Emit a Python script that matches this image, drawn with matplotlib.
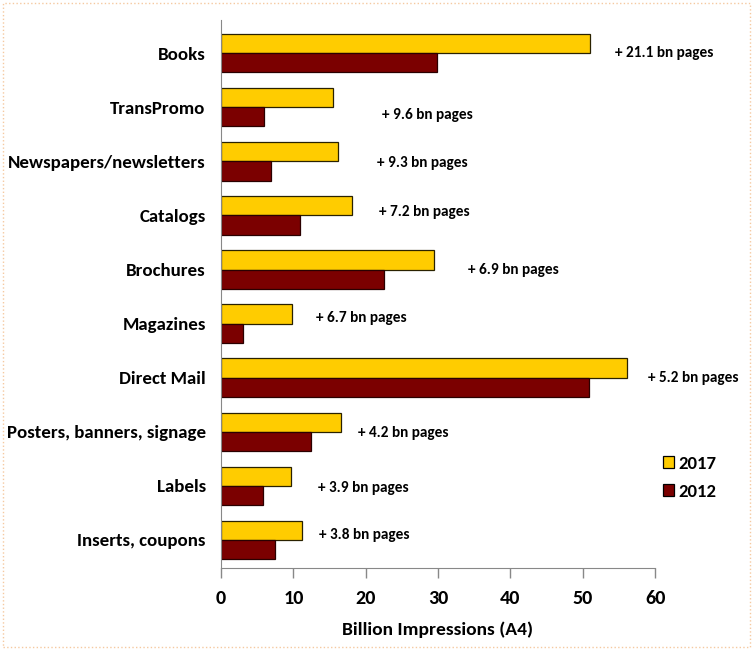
import numpy as np
import matplotlib.pyplot as plt
from matplotlib.patches import Rectangle

plt.rcParams['font.family'] = ['Carlito', 'DejaVu Sans']

categories = ['Books', 'TransPromo', 'Newspapers/newsletters', 'Catalogs', 'Brochures',
              'Magazines', 'Direct Mail', 'Posters, banners, signage', 'Labels', 'Inserts, coupons']
vals_2017 = [51.0, 15.5, 16.2, 18.1, 29.4, 9.8, 56.1, 16.6, 9.7, 11.2]
vals_2012 = [29.9, 5.9, 6.9, 10.9, 22.5, 3.1, 50.9, 12.4, 5.8, 7.4]
growth = ['+ 21.1 bn pages', '+ 9.6 bn pages', '+ 9.3 bn pages', '+ 7.2 bn pages', '+ 6.9 bn pages',
          '+ 6.7 bn pages', '+ 5.2 bn pages', '+ 4.2 bn pages', '+ 3.9 bn pages', '+ 3.8 bn pages']
# where each note sits (x in data units, y shift from the category centre)
note_x = [54.4, 22.3, 21.6, 21.8, 34.1, 13.1, 59.0, 18.9, 13.4, 13.5]
note_dy = [0, 0.15, 0.04, -0.06, 0, -0.1, 0, 0.02, 0.04, -0.09]

fig = plt.figure(figsize=(7.53, 6.5), dpi=100)
ax = fig.add_axes([0.2935, 0.126, 0.5765, 0.843])

y = np.arange(len(categories))
h = 0.355
ax.barh(y - h / 2, vals_2017, height=h, color='#FFCC00', edgecolor='#2a2200', linewidth=0.9, label='2017')
ax.barh(y + h / 2, vals_2012, height=h, color='#7B0000', edgecolor='#2a0000', linewidth=0.9, label='2012')

for i, txt in enumerate(growth):
    ax.text(note_x[i], y[i] + note_dy[i], txt, va='center', ha='left', fontsize=11,
            fontweight='bold', clip_on=False)

ax.set_yticks(y)
ax.set_yticklabels(categories, fontsize=13.6, fontweight='bold')
ax.set_ylim(9.52, -0.61)
ax.set_xlim(0, 60)
ax.set_xticks(range(0, 61, 10))
ax.tick_params(axis='x', labelsize=14.5, colors='#888888', length=7, width=1, pad=9)
for lab in ax.get_xticklabels():
    lab.set_color('black')
    lab.set_fontweight('bold')
ax.tick_params(axis='y', length=0, pad=11)
ax.set_xlabel('Billion Impressions (A4)', fontsize=14, fontweight='bold', labelpad=10)

for s in ['top', 'right']:
    ax.spines[s].set_visible(False)
for s in ['left', 'bottom']:
    ax.spines[s].set_color('#888888')

leg = ax.legend(loc='center left', bbox_to_anchor=(1.018, 0.165), frameon=False,
                prop={'size': 13.5, 'weight': 'bold'}, handlelength=0.6, handleheight=0.6,
                handletextpad=0.2, labelspacing=0.65, borderaxespad=0, borderpad=0)
for p in leg.get_patches():
    p.set_edgecolor('black')

fig.patches.append(Rectangle((0.004, 0.005), 0.992, 0.99, transform=fig.transFigure, fill=False,
                             edgecolor='#f5c9a0', linestyle=':', linewidth=1))

fig.savefig('out.png', dpi=100)
